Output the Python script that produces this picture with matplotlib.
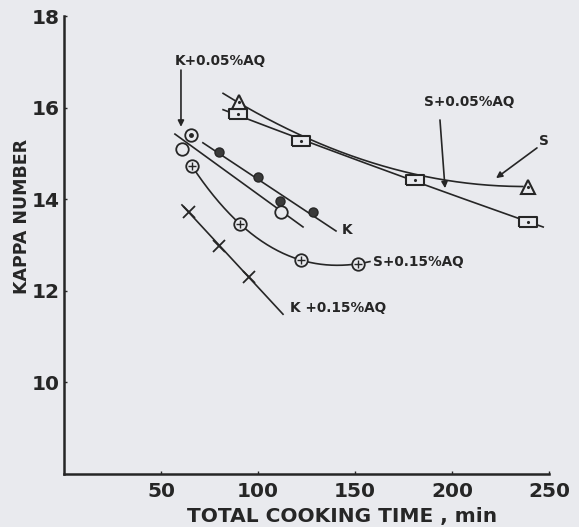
import numpy as np
import matplotlib
matplotlib.use('Agg')
import matplotlib.pyplot as plt

# ---- data ----
k_time = [65.5, 80.0, 100.0, 111.3, 128.4]
k_kappa = [15.40, 15.03, 14.48, 13.96, 13.72]

k05_time = [60.8, 65.5, 111.9]
k05_kappa = [15.10, 15.40, 13.72]

k15_time = [64.4, 79.9, 95.4]
k15_kappa = [13.72, 12.98, 12.30]

s15_time = [66.0, 90.7, 122.2, 151.5]
s15_kappa = [14.72, 13.46, 12.67, 12.59]

s_time = [90.2, 122.2, 180.9, 239.2]
s_kappa = [16.12, 15.36, 14.57, 14.27]

s05_time = [89.7, 122.2, 180.9, 239.2]
s05_kappa = [15.85, 15.27, 14.42, 13.50]

x_ticks = [50, 100, 150, 200, 250]
y_ticks = [10, 12, 14, 16, 18]

BG = '#e9eaee'
INK = '#262626'
FONT = 'DejaVu Sans'

plt.rcParams['font.family'] = [FONT]
fig = plt.figure(figsize=(5.79, 5.27), dpi=100, facecolor=BG)
ax = fig.add_axes([0.1105, 0.1006, 0.8377, 0.869])
ax.set_facecolor(BG)

lw = 1.2

def fit_line(xs, ys, deg, x0, x1):
    c = np.polyfit(xs, ys, deg)
    xx = np.linspace(x0, x1, 200)
    ax.plot(xx, np.polyval(c, xx), color=INK, lw=lw, zorder=2)

# fitted curves
fit_line(k_time, k_kappa, 1, 71.6, 140.2)
fit_line(k05_time, k05_kappa, 1, 57.2, 123.2)
fit_line(k15_time, k15_kappa, 1, 60.8, 112.9)
fit_line(s15_time, s15_kappa, 3, 66.0, 157.7)
fit_line(s_time, s_kappa, 2, 82.0, 236.5)
fit_line(s05_time, s05_kappa, 2, 82.0, 247.0)

# markers
ax.plot(k_time[1:], k_kappa[1:], 'o', ms=6.5, color='#3a3a3a', mec=INK, zorder=4)
ax.plot(k05_time, k05_kappa, 'o', ms=9, mfc=BG, mec=INK, mew=1.3, zorder=3)
ax.plot(k_time[:1], k_kappa[:1], 'o', ms=2.5, color=INK, zorder=5)
ax.plot(k15_time, k15_kappa, 'x', ms=8, mec=INK, mew=1.3, zorder=3)
ax.plot(s15_time, s15_kappa, 'o', ms=9, mfc=BG, mec=INK, mew=1.3, zorder=3)
ax.plot(s15_time, s15_kappa, '+', ms=6, mec=INK, mew=1.0, zorder=4)
rect = [(-1.7, -1), (1.7, -1), (1.7, 1), (-1.7, 1), (-1.7, -1)]
ax.plot(s05_time, s05_kappa, marker=rect, ls='none', ms=13, mfc=BG, mec=INK, mew=1.5, zorder=3)
ax.plot(s05_time, s05_kappa, '.', ms=2.5, color=INK, zorder=4)
ax.plot(s_time, s_kappa, '^', markevery=[0, 3], ms=10, mfc=BG, mec=INK, mew=1.5, zorder=5)
ax.plot(s_time, s_kappa, '.', markevery=[0, 3], ms=2.5, color=INK, zorder=6)

# annotations
tkw = dict(fontsize=9.8, fontweight='bold', color=INK)
akw = dict(arrowstyle='-|>', color=INK, lw=1.2, mutation_scale=9, shrinkA=0, shrinkB=0)
ax.text(80.4, 17.02, 'K+0.05%AQ', ha='center', va='center', **tkw)
ax.annotate('', xy=(60.3, 15.58), xytext=(60.3, 16.82), arrowprops=akw)
ax.text(209.0, 16.12, 'S+0.05%AQ', ha='center', va='center', **tkw)
ax.annotate('', xy=(196.4, 14.24), xytext=(193.8, 15.73), arrowprops=akw)
ax.text(247.5, 15.27, 'S', ha='center', va='center', **tkw)
ax.annotate('', xy=(222.7, 14.46), xytext=(243.8, 15.12), arrowprops=akw)
ax.text(143.0, 13.33, 'K', ha='left', va='center', **tkw)
ax.text(159.5, 12.63, 'S+0.15%AQ', ha='left', va='center', **tkw)
ax.text(116.5, 11.62, 'K +0.15%AQ', ha='left', va='center', **tkw)

# axes styling
ax.set_xlim(0, 250)
ax.set_ylim(8, 18)
ax.set_xticks(x_ticks)
ax.set_yticks(y_ticks)
ax.tick_params(direction='in', length=2, width=1, colors=INK, labelsize=14.5, pad=6)
ax.tick_params(axis='y', pad=3)
for lab in ax.get_xticklabels() + ax.get_yticklabels():
    lab.set_fontweight('bold')
for s in ['top', 'right']:
    ax.spines[s].set_visible(False)
for s in ['left', 'bottom']:
    ax.spines[s].set_linewidth(1.8)
    ax.spines[s].set_color(INK)

ax.set_xlabel('TOTAL COOKING TIME , min', fontsize=14.5, fontweight='bold', color=INK)
ax.set_ylabel('KAPPA NUMBER', fontsize=12.5, fontweight='bold', color=INK)
ax.xaxis.set_label_coords(0.574, -0.072)
ax.yaxis.set_label_coords(-0.068, 0.563)

fig.savefig('out.png', dpi=100, facecolor=BG)
